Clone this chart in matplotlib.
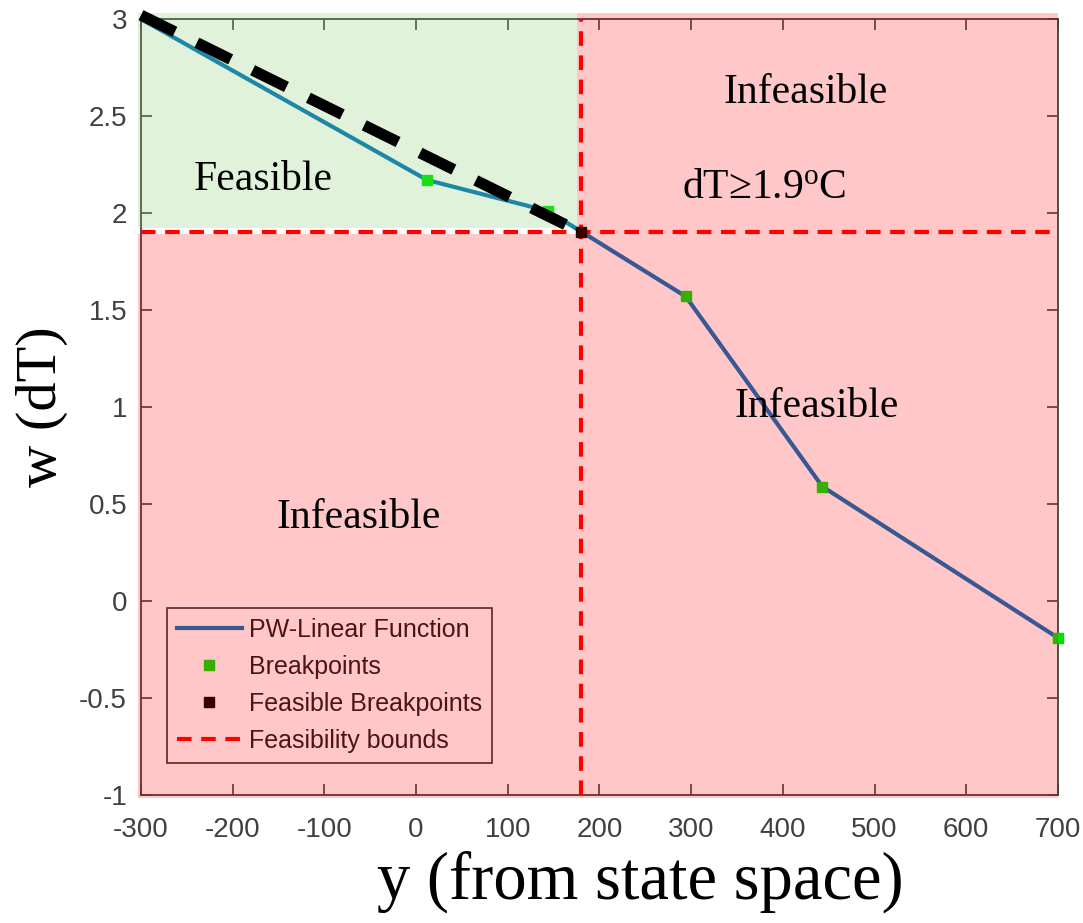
import matplotlib
matplotlib.use("Agg")
import matplotlib.pyplot as plt
from matplotlib.patches import Rectangle
from matplotlib.lines import Line2D

plt.rcParams['mathtext.fontset'] = 'custom'
plt.rcParams['mathtext.rm'] = 'Liberation Serif'
plt.rcParams['mathtext.it'] = 'Liberation Serif:italic'
plt.rcParams['axes.unicode_minus'] = False

# Piecewise-linear function and its breakpoints
pw_x = [-300, 12, 144, 294, 443, 700]
pw_y = [3.0, 2.17, 2.01, 1.57, 0.59, -0.19]
bp_x = [12, 144, 294, 443, 700]
bp_y = [2.17, 2.01, 1.57, 0.59, -0.19]
feas_bp_x = [180]
feas_bp_y = [1.9]

# Feasibility bounds
y_bound = 180
dT_bound = 1.9

# Convex upper envelope over the feasible part
env_x = [-300, 180]
env_y = [3.02, 1.9]

xticks = [-300, -200, -100, 0, 100, 200, 300, 400, 500, 600, 700]
yticks = [-1, -0.5, 0, 0.5, 1, 1.5, 2, 2.5, 3]
ytick_labels = ['-1', '-0.5', '0', '0.5', '1', '1.5', '2', '2.5', '3']

fig = plt.figure(figsize=(10.83, 9.23), dpi=100)
ax = fig.add_axes([0.1302, 0.1387, 0.8467, 0.8407])
ax.set_xlim(-300, 700)
ax.set_ylim(-1, 3)

ax.plot(pw_x, pw_y, color='#0072BD', lw=3, zorder=2, label='PW-Linear Function')
ax.plot(bp_x, bp_y, ls='none', marker='s', ms=7, color='#00e000', mec='#00e000',
        zorder=3, clip_on=False, label='Breakpoints')
ax.plot(feas_bp_x, feas_bp_y, ls='none', marker='s', ms=7, color='black',
        zorder=4, clip_on=False, label='Feasible Breakpoints')
ax.axvline(y_bound, color='#ff0000', lw=3, dashes=(3.5, 2.3), zorder=2.6,
           label='Feasibility bounds')
ax.axhline(dT_bound, color='#ff0000', lw=3, dashes=(3.5, 2.3), zorder=2.6)

sans = ['Liberation Sans', 'DejaVu Sans']
serif = ['Liberation Serif', 'DejaVu Serif']

ax.set_xticks(xticks)
ax.set_yticks(yticks)
ax.set_yticklabels(ytick_labels)
ax.tick_params(direction='in', length=8, width=1.2, colors='#404040',
               top=True, right=True, labelsize=20)
ax.tick_params(axis='x', pad=16)
ax.tick_params(axis='y', pad=10)
for lab in ax.get_xticklabels() + ax.get_yticklabels():
    lab.set_family(sans)
for sp in ax.spines.values():
    sp.set_color('#404040')
    sp.set_linewidth(1.3)

leg = ax.legend(loc='lower left', bbox_to_anchor=(0.028, 0.041), borderaxespad=0,
                prop={'family': sans, 'size': 18}, fancybox=False,
                edgecolor='#303030', framealpha=1, handlelength=2.6,
                labelspacing=0.52, handletextpad=0.3, borderpad=0.4)
leg.get_frame().set_linewidth(1.2)
for t in leg.get_texts():
    t.set_color('#1a1a1a')
leg.set_zorder(5)

# Translucent region shading drawn over the plot
pink = (1.0, 0.0, 0.0, 0.22)
green = (0.50, 0.80, 0.40, 0.24)
regions = [
    ((-303, 1.925), 176 - (-303), 3.03 - 1.925, green),
    ((176, -1.015), 700 - 176, 3.03 + 1.015, pink),
    ((-303, -1.015), 176 - (-303), 1.893 + 1.015, pink),
]
for (x0, y0), w, h, c in regions:
    ax.add_patch(Rectangle((x0, y0), w, h, facecolor=c, edgecolor='none',
                           zorder=6, clip_on=False))

ax.add_line(Line2D(env_x, env_y, color='black', lw=8, dashes=(3.4, 2.2),
                   solid_capstyle='butt', dash_capstyle='butt', zorder=7,
                   clip_on=False))

txt = dict(family=serif, size=30, color='black', ha='center', va='center', zorder=8)
ax.text(-167, 2.17, 'Feasible', **txt)
ax.text(425, 2.62, 'Infeasible', **txt)
ax.text(380, 2.13, 'dT≥1.9$^{\\mathrm{o}}$C', **txt)
ax.text(437, 1.0, 'Infeasible', **txt)
ax.text(-63, 0.43, 'Infeasible', **txt)

ax.set_xlabel('y (from state space)', family=serif, size=48)
ax.xaxis.set_label_coords(0.544, -0.072)
ax.set_ylabel('w (dT)', family=serif, size=42, labelpad=8)

fig.savefig('out.png', dpi=100)
